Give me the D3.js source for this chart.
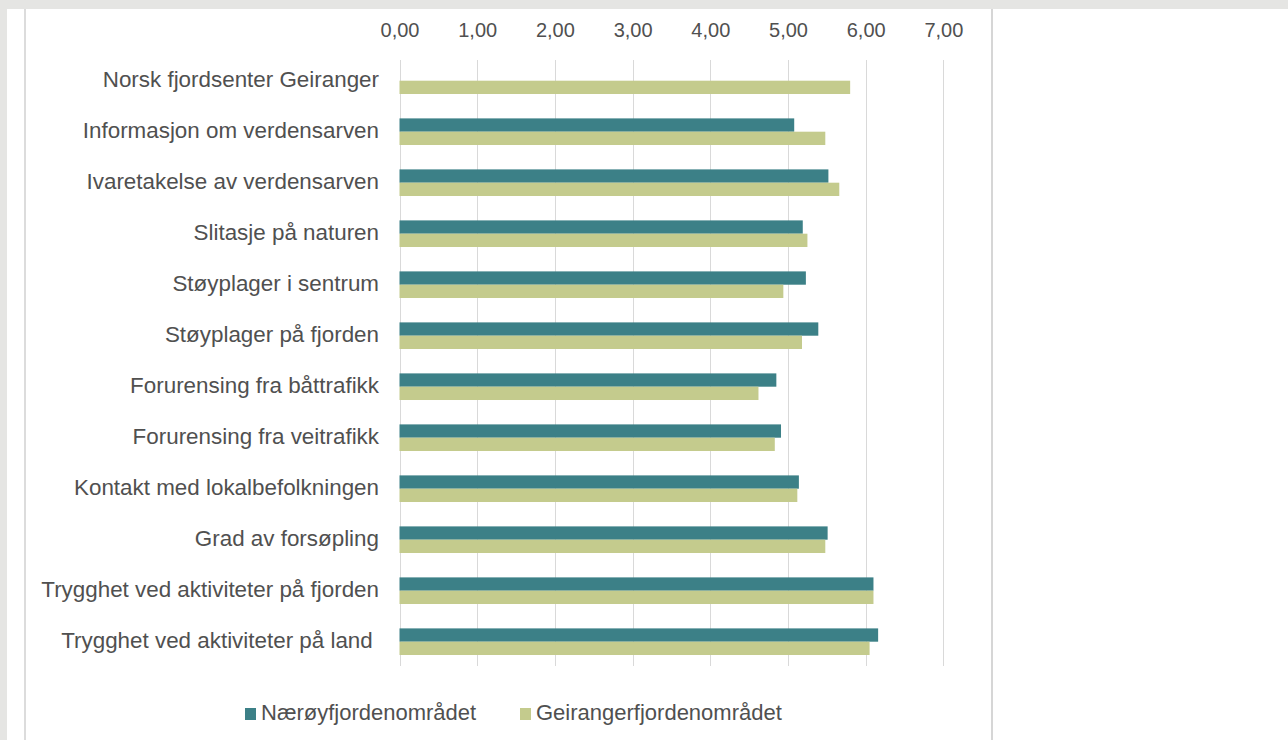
<!DOCTYPE html>
<html>
<head>
<meta charset="utf-8">
<script src="https://cdn.jsdelivr.net/npm/d3@7"></script>
<style>
  html, body { margin: 0; padding: 0; background: #ffffff; }
  svg { display: block; }
  text { font-family: "Liberation Sans", Arial, sans-serif; fill: #505050; white-space: pre; }
</style>
</head>
<body>
<svg id="chart" width="1288" height="740"></svg>
<script>
// Category labels, top to bottom
const categories = [
  "Norsk fjordsenter Geiranger",
  "Informasjon om verdensarven",
  "Ivaretakelse av verdensarven",
  "Slitasje på naturen",
  "Støyplager i sentrum",
  "Støyplager på fjorden",
  "Forurensing fra båttrafikk",
  "Forurensing fra veitrafikk",
  "Kontakt med lokalbefolkningen",
  "Grad av forsøpling",
  "Trygghet ved aktiviteter på fjorden",
  "Trygghet ved aktiviteter på land "
];

const seriesNames = ["Nærøyfjordenområdet", "Geirangerfjordenområdet"];

// Mean scores per area (null = not asked)
const naeroyValues = [null, 5.08, 5.52, 5.19, 5.23, 5.39, 4.85, 4.91, 5.14, 5.51, 6.10, 6.16];
const geirangerValues = [5.80, 5.48, 5.66, 5.25, 4.94, 5.18, 4.62, 4.83, 5.12, 5.48, 6.10, 6.05];

const tickValues = [0, 1, 2, 3, 4, 5, 6, 7];
const colors = ["#3c8087", "#c4cb8d"];

const svg = d3.select("#chart");

// Page frame: grey margins and thin rules
svg.append("rect").attr("x", 0).attr("y", 0).attr("width", 1288).attr("height", 9).attr("fill", "#e5e5e3");
svg.append("rect").attr("x", 0).attr("y", 0).attr("width", 7).attr("height", 740).attr("fill", "#e5e5e3");
svg.append("rect").attr("x", 24).attr("y", 9).attr("width", 2).attr("height", 731).attr("fill", "#dcdcdc");
svg.append("rect").attr("x", 991).attr("y", 9).attr("width", 2).attr("height", 731).attr("fill", "#d6d6d6");

const x = d3.scaleLinear().domain([0, 7]).range([399.5, 943.4]);

const y = d3.scaleBand()
  .domain(categories)
  .range([55.2, 667.2])
  .paddingInner(0.478)
  .paddingOuter(0.239);

const ySub = d3.scaleBand().domain(seriesNames).range([0, y.bandwidth()]);

// Vertical gridlines
svg.append("g")
  .selectAll("line")
  .data(tickValues)
  .join("line")
  .attr("x1", d => Math.round(x(d)) + 0.5)
  .attr("x2", d => Math.round(x(d)) + 0.5)
  .attr("y1", 60)
  .attr("y2", 666)
  .attr("stroke", "#d9d9d9")
  .attr("stroke-width", 1);

// Top axis labels
const fmt = d => d3.format(".2f")(d).replace(".", ",");
const axisTop = d3.axisTop(x).tickValues(tickValues).tickFormat(fmt).tickSize(0).tickPadding(0);
const gAxis = svg.append("g").attr("transform", "translate(0,37)").call(axisTop);
gAxis.select(".domain").remove();
gAxis.selectAll("text")
  .style("font-family", "'Liberation Sans', Arial, sans-serif")
  .style("font-size", "20px")
  .attr("fill", "#505050");

// Category labels
const gCat = svg.append("g");
gCat.selectAll("text")
  .data(categories)
  .join("text")
  .attr("x", 379)
  .attr("y", d => y(d) + y.bandwidth() / 2)
  .attr("text-anchor", "end")
  .attr("dominant-baseline", "middle")
  .style("font-size", "22.4px")
  .text(d => d);

// Bars
const series = [naeroyValues, geirangerValues];
series.forEach((vals, si) => {
  svg.append("g")
    .selectAll("rect")
    .data(categories.map((c, i) => ({ c, v: vals[i] })).filter(d => d.v != null))
    .join("rect")
    .attr("x", x(0))
    .attr("y", d => y(d.c) + ySub(seriesNames[si]))
    .attr("width", d => x(d.v) - x(0))
    .attr("height", ySub.bandwidth())
    .attr("fill", colors[si]);
});

// Legend
const legendItems = [
  { name: seriesNames[0], color: colors[0], x: 245 },
  { name: seriesNames[1], color: colors[1], x: 520 }
];
const gLeg = svg.append("g");
legendItems.forEach(it => {
  gLeg.append("rect")
    .attr("x", it.x).attr("y", 708).attr("width", 11).attr("height", 12)
    .attr("fill", it.color);
  gLeg.append("text")
    .attr("x", it.x + 16).attr("y", 714)
    .attr("dominant-baseline", "middle")
    .style("font-size", "22px")
    .text(it.name);
});
</script>
</body>
</html>
